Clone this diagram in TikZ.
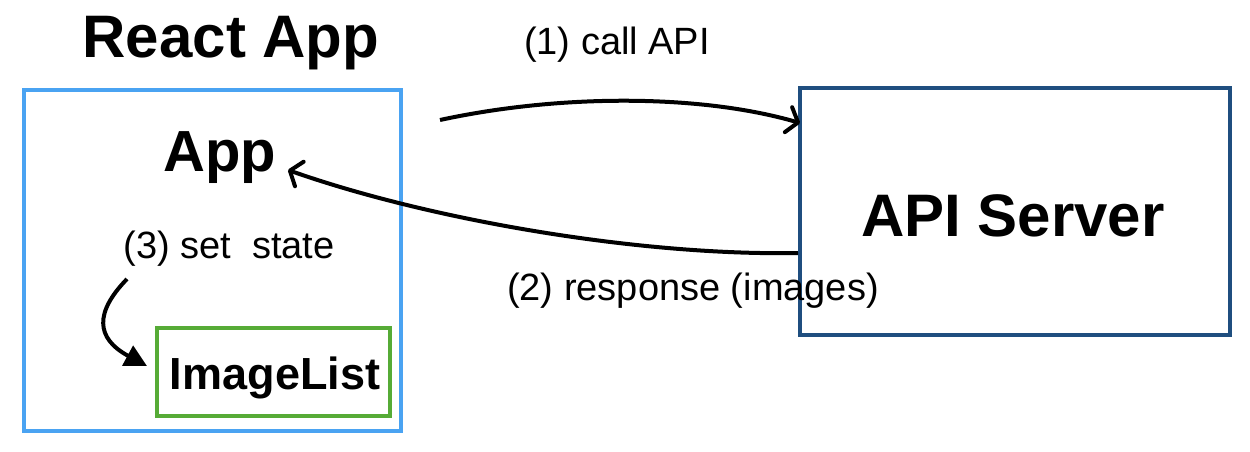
\documentclass[tikz,border=0pt]{standalone}
\usepackage{fontspec}
\setmainfont{Liberation Sans}
\usetikzlibrary{arrows.meta}
\definecolor{reactblue}{HTML}{4AA3F2}
\definecolor{listgreen}{HTML}{56AB36}
\definecolor{apiblue}{HTML}{1F4E7F}
\tikzset{
  box/.style={draw, inner sep=0pt, line width=4pt},
  big/.style={inner sep=0pt, anchor=base, font=\fontsize{60}{63}\selectfont\bfseries},
  lbl/.style={inner sep=0pt, anchor=base, font=\fontsize{38}{42}\selectfont},
  conn/.style={line width=4pt, black},
  barb/.style={-{Straight Barb[length=10pt, width=26pt, line width=4pt 0, round]}},
}
\begin{document}
\begin{tikzpicture}[x=1pt,y=-1pt]
\useasboundingbox (0,0) rectangle (1250,452);
% boxes
\node[box, draw=reactblue, minimum width=377pt, minimum height=341pt] (react) at (212.5,260.5) {};
\node[box, draw=listgreen, minimum width=233pt, minimum height=88pt] (list) at (273.5,372) {};
\node[box, draw=apiblue, line width=3.5pt, minimum width=430pt, minimum height=247pt] (api) at (1015,211.5) {};
% texts
\node[big] (title) at (231,58) {React App};
\node[big, font=\fontsize{58}{61}\selectfont\bfseries] (app) at (220,171) {App};
\node[big] (apitxt) at (1013,236) {API Server};
\node[inner sep=0pt, anchor=base, font=\fontsize{45}{48}\selectfont\bfseries] (listtxt) at (275,389) {ImageList};
\node[lbl] (l1) at (617,55) {(1) call API};
\node[lbl] (l2) at (693,300) {(2) response (images)};
\node[lbl] (l3) at (229,258) {(3) set\ \ state};
% connector end points
\coordinate (c1s) at (440,120);
\coordinate (c1e) at (800,123);
\coordinate (c2s) at (798,253);
\coordinate (c2e) at (288,170);
\coordinate (c3s) at (127,279);
\coordinate (c3e) at (147,366);
% connectors
\draw[conn, barb] (c1s) .. controls (560,94) and (700,94) .. (c1e);
\draw[conn, barb] (c2s) .. controls (640,256) and (430,220) .. (c2e);
\draw[conn, -{Triangle[length=22pt, width=22pt]}] (c3s) .. controls (95,312) and (95,338) .. (c3e);
\end{tikzpicture}
\end{document}
